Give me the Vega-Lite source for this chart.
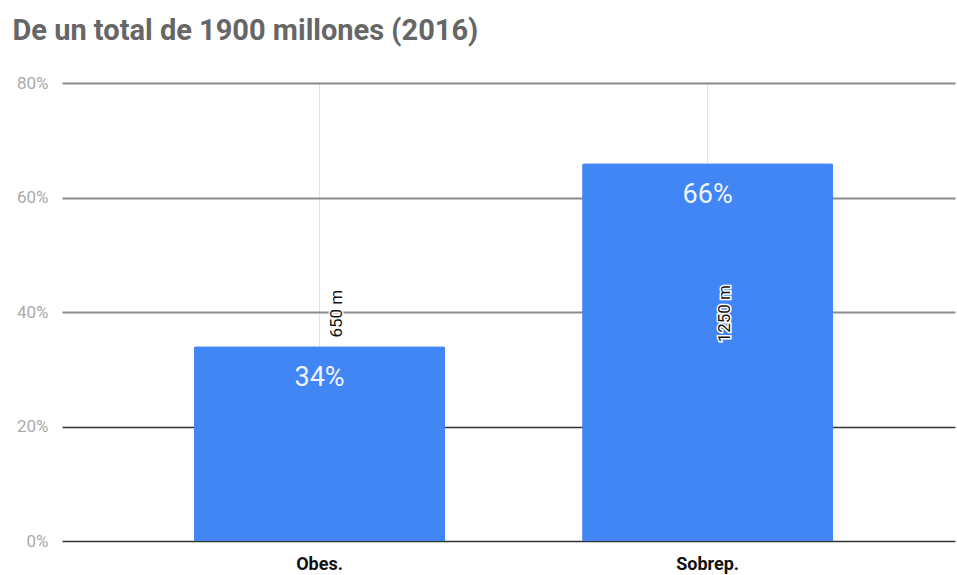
{
  "$schema": "https://vega.github.io/schema/vega-lite/v6.json",
  "width": 893,
  "height": 458,
  "autosize": {"type": "none"},
  "padding": {"left": 62, "top": 83, "right": 2, "bottom": 34},
  "background": "white",
  "title": {
    "text": "De un total de 1900 millones (2016)",
    "anchor": "start",
    "frame": "bounds",
    "font": "Roboto",
    "fontSize": 29,
    "fontWeight": "bold",
    "color": "#666666",
    "offset": 28,
    "dx": -4
  },
  "data": {
    "values": [
      {"cat": "Obes.", "pct": 0.34, "pctLabel": "34%", "millones": "650 m"},
      {"cat": "Sobrep.", "pct": 0.66, "pctLabel": "66%", "millones": "1250 m"}
    ]
  },
  "encoding": {
    "x": {
      "field": "cat",
      "type": "nominal",
      "sort": null,
      "scale": {"paddingInner": 0.353, "paddingOuter": 0.327, "align": 0.52},
      "axis": {
        "title": null,
        "labelAngle": 0,
        "labelFont": "Roboto",
        "labelFontSize": 18,
        "labelFontWeight": "bold",
        "labelColor": "#111111",
        "labelPadding": 14,
        "ticks": false,
        "domain": false,
        "grid": true,
        "bandPosition": 0.5,
        "gridColor": "#e3e3e3",
        "gridWidth": 1
      }
    }
  },
  "layer": [
    {
      "mark": {"type": "bar", "color": "#4285F4", "cornerRadiusTopLeft": 2, "cornerRadiusTopRight": 2},
      "encoding": {
        "y": {
          "field": "pct",
          "type": "quantitative",
          "scale": {"domain": [0, 0.8], "nice": false},
          "axis": {
            "title": null,
            "values": [0, 0.2, 0.4, 0.6, 0.8],
            "format": ".0%",
            "labelFont": "Roboto",
            "labelFontSize": 17,
            "labelColor": "#aaaaaa",
            "labelPadding": 14,
            "ticks": false,
            "domain": false,
            "grid": true,
            "gridColor": {"condition": {"test": "datum.value <= 0.2", "value": "#333333"}, "value": "#8a8a8a"},
            "gridWidth": {"condition": {"test": "datum.value <= 0.2", "value": 1.5}, "value": 2}
          }
        }
      }
    },
    {
      "mark": {"type": "text", "font": "Roboto", "fontSize": 27, "color": "#eef4ff", "baseline": "middle", "dy": 32},
      "encoding": {
        "y": {"field": "pct", "type": "quantitative"},
        "text": {"field": "pctLabel"}
      }
    },
    {
      "mark": {"type": "text", "font": "Roboto", "fontSize": 17, "angle": 270, "align": "center", "baseline": "middle", "dy": 17, "stroke": "white", "strokeWidth": 3, "color": "white"},
      "encoding": {
        "y": {"datum": 0.397},
        "text": {"field": "millones"}
      }
    },
    {
      "mark": {"type": "text", "font": "Roboto", "fontSize": 17, "angle": 270, "align": "center", "baseline": "middle", "dy": 17, "color": "#111111"},
      "encoding": {
        "y": {"datum": 0.397},
        "text": {"field": "millones"}
      }
    }
  ],
  "config": {"view": {"stroke": null}}
}
